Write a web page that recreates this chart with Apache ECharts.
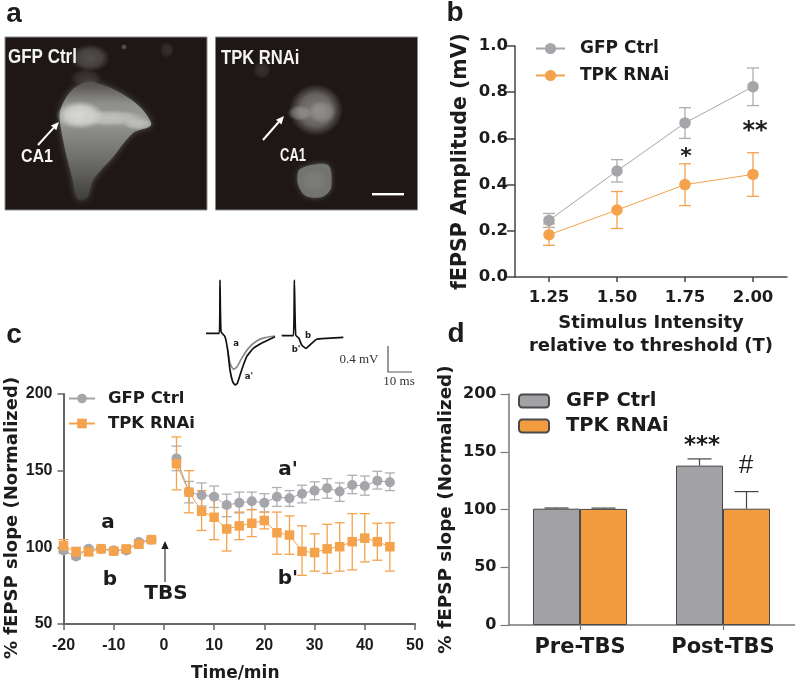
<!DOCTYPE html>
<html><head><meta charset="utf-8">
<style>html,body{margin:0;padding:0;background:#fff}#c{width:797px;height:683px}</style>
<script src="https://cdn.jsdelivr.net/npm/echarts@6/dist/echarts.min.js"></script>
</head><body><div id="c"></div>
<script>
// ---------- data ----------
const ampCategories = ['1.25','1.50','1.75','2.00'];
const ampGfp = [0.245,0.459,0.667,0.824];
const ampGfpLow = [0.215,0.411,0.600,0.742];
const ampGfpHigh = [0.275,0.508,0.733,0.905];
const ampTpk = [0.183,0.290,0.400,0.444];
const ampTpkLow = [0.137,0.210,0.309,0.349];
const ampTpkHigh = [0.230,0.370,0.490,0.538];

const timeMin = [-20,-17.5,-15,-12.5,-10,-7.5,-5,-2.5,2.5,5,7.5,10,12.5,15,17.5,20,22.5,25,27.5,30,32.5,35,37.5,40,42.5,45];
const slopeGfp = [98,94,99,99,98,98,103.5,105,158,136,134,133,127.6,129,130,129,133,132,135,137,138.6,136.4,140.7,140,143.5,142.5];
const slopeGfpLow = [96,92.5,97.5,98,97,96.5,102,104,150,129,127,126,120,122.4,124.6,123,126.7,126.7,129,131,132,130,135,134,138,137];
const slopeGfpHigh = [100,95.5,100.5,100,99,99.5,105,106,166,143,142,140,134.7,136,136,135,139,137,140.5,142.7,144.8,142,147,146.5,149.6,148.5];
const slopeTpk = [101,97,97,99,97.5,99,102,105,154.5,136,123.5,119.6,112,114,115.7,117.5,109.5,108,97.4,96.6,99,100.4,103.7,106,103.7,100.4];
const slopeTpkLow = [97,94.5,95,98,96,97,100,103.5,137.5,122.5,111,105,97.6,105,107,112,95.5,95.5,81.7,84.5,83,84.5,85.3,90.5,91.6,84.5];
const slopeTpkHigh = [105,100,99.5,100,99,101,104,106.5,172,150,137,134,126,123,124.6,123,123,120.5,114,108.8,115,116,122,122,115.7,116];
const tbsTime = 0;

const barCategories = ['Pre-TBS','Post-TBS'];
const barGfp = [100.7,138];
const barGfpHigh = [101.3,143.8];
const barTpk = [100.5,100.7];
const barTpkHigh = [101.2,115.5];

// example traces, in arbitrary sample units
const traceA1 = [[18,190],[58,190],[60,30],[63,185],[75,200],[83,240],[90,300],[98,335],[105,345],[112,340],[125,300],[140,260],[160,235],[190,217],[225,200]];
const traceA0 = [[83,240],[90,280],[100,298],[110,292],[125,265],[145,235],[170,213],[195,203],[225,198]];
const traceB1 = [[245,197],[280,197],[283,30],[287,195],[297,205],[305,225],[318,235],[330,225],[350,208],[380,205],[430,202]];

// ---------- style ----------
const GREY='#a6a6aa', ORANGE='#f4a24c', INK='#1c1c1c';
const WIDE='"DejaVu Sans"', ARIAL='"Liberation Sans"';
const tickFont=(s,f)=>({color:INK,fontFamily:f||WIDE,fontWeight:'bold',fontSize:s});
const strip=n=>n.replace(/ \(.\)$/,'');

function errRender(capW,color,lw){
  return function(p,api){
    const c0=api.coord([api.value(0),api.value(1)]);
    const c1=api.coord([api.value(0),api.value(2)]);
    const x=c0[0],st={stroke:color,lineWidth:lw,fill:null};
    return {type:'group',children:[
      {type:'line',shape:{x1:x,y1:c0[1],x2:x,y2:c1[1]},style:st},
      {type:'line',shape:{x1:x-capW/2,y1:c0[1],x2:x+capW/2,y2:c0[1]},style:st},
      {type:'line',shape:{x1:x-capW/2,y1:c1[1],x2:x+capW/2,y2:c1[1]},style:st}
    ]};
  };
}
function barErr(offset,capW,color){
  return function(p,api){
    const c0=api.coord([api.value(0),api.value(1)]);
    const c1=api.coord([api.value(0),api.value(2)]);
    const x=c0[0]+offset,st={stroke:color,lineWidth:1.2,fill:null};
    return {type:'group',children:[
      {type:'line',shape:{x1:x,y1:c0[1],x2:x,y2:c1[1]},style:st},
      {type:'line',shape:{x1:x-capW/2,y1:c1[1],x2:x+capW/2,y2:c1[1]},style:st}
    ]};
  };
}
const triple=(xs,lo,hi)=>xs.map((x,i)=>[x,lo[i],hi[i]]);
const idx=ampCategories.map((_,i)=>i), bidx=barCategories.map((_,i)=>i);

// ---------- graphic decoration ----------
const txt=(text,x,y,size,o={})=>({type:'text',x,y,scaleX:o.sx||1,scaleY:o.sy||1,rotation:o.rot||0,z:o.z||20,
  style:{text,x:0,y:0,fill:o.fill||INK,textAlign:o.align||'center',textVerticalAlign:'middle',
  font:(o.weight||'bold')+' '+size+'px '+(o.fam||ARIAL)}});
function arrow(x1,y1,x2,y2,color,w,head){
  const a=Math.atan2(y2-y1,x2-x1),bx=x2-head*Math.cos(a),by=y2-head*Math.sin(a),nx=-Math.sin(a)*head*0.45,ny=Math.cos(a)*head*0.45;
  return [{type:'line',z:20,shape:{x1,y1,x2:bx,y2:by},style:{stroke:color,lineWidth:w}},
          {type:'polygon',z:20,shape:{points:[[x2,y2],[bx+nx,by+ny],[bx-nx,by-ny]]},style:{fill:color}}];
}
const grad=(stops)=>({type:'linear',x:0,y:0,x2:0,y2:1,colorStops:stops.map(([offset,color])=>({offset,color}))});
const poly=(points,fill,blur,shadow,z)=>({type:'polygon',z:z||12,shape:{points,smooth:0.3},style:{fill,shadowBlur:blur,shadowColor:shadow}});
// soft-edged ellipse used for the fluorescence glow
const soft=(cx,cy,rx,ry,g,a,z)=>({type:'circle',z:z||13,x:cx,y:cy,scaleY:ry/rx,shape:{cx:0,cy:0,r:rx},
  style:{fill:{type:'radial',x:0.5,y:0.5,r:0.5,colorStops:[
    {offset:0,color:`rgba(${g},${g},${g-2},${a})`},{offset:0.6,color:`rgba(${g},${g},${g-2},${a*0.75})`},{offset:1,color:`rgba(${g},${g},${g-2},0)`}]}}});
const PANEL='#1e1716';
const graphic=[
  {type:'rect',z:10,shape:{x:5,y:37,width:202,height:173},style:{fill:PANEL,stroke:'#8a8a88',lineWidth:1}},
  {type:'rect',z:10,shape:{x:215.5,y:37,width:202,height:173},style:{fill:PANEL,stroke:'#8a8a88',lineWidth:1}},
  // left micrograph
  soft(90,58,20,14,115,0.6), soft(167,50,7,8,120,0.25), soft(124,47,3,3,150,0.5), soft(86,78,16,9,110,0.35),
  poly([[60,112],[72,90],[90,82],[117,91],[140,107],[151,125],[133,133],[113,157],[93,180],[87,197],[78,199],[72,177],[63,140]],
       grad([[0,'#504e4c'],[0.18,'#8e8e8c'],[0.34,'#9c9c9a'],[0.42,'#8a8a88'],[0.7,'#686866'],[1,'#403e3c']]),6,'#5a5856'),
  soft(80,115,24,14,222,0.95,14), soft(110,118,36,8,205,0.75,14), soft(138,124,15,6,205,0.7,14),
  // right micrograph
  soft(262,70,9,9,110,0.3),
  soft(316,110,27,26,150,0.8), soft(300,113,13,8,170,0.55,14), soft(322,112,14,12,170,0.5,14),
  poly([[300,169],[328,165],[331,188],[322,197],[306,196],[298,184]],'#737371',5,'#5a5a58'),
  soft(314,181,13,12,130,0.6,14),
  {type:'rect',z:20,shape:{x:372,y:193,width:32,height:2.4},style:{fill:'#fff'}},
  ...arrow(38,145,59,122,'#fff',2,8),
  ...arrow(263,140,284,116,'#fff',2,8),
  txt('GFP Ctrl',8,57,17,{align:'left',fill:'#f4f4f4',sy:1.2}),
  txt('TPK RNAi',221,59,16.6,{align:'left',fill:'#f4f4f4',sy:1.2}),
  txt('CA1',37,157,16,{fill:'#f4f4f4',sy:1.2}),
  txt('CA1',293,156,13,{fill:'#f4f4f4',sy:1.35}),
  txt('a',14,14,28),txt('b',455,13,28),txt('c',14,335,28),txt('d',456,334,28),
  // significance marks
  txt('*',686,157,22,{fam:WIDE}),
  txt('**',755,132,24,{fam:WIDE}),
  txt('***',702,446,23,{fam:WIDE}),
  txt('#',746,466,26,{fam:ARIAL,weight:'normal'}),
  // panel c annotations
  txt('a',108,523,20,{fam:WIDE}),txt('b',110,580,20,{fam:WIDE}),
  txt('TBS',166,594,20,{fam:WIDE}),
  ...arrow(165,582,165,541,'#666',1.6,8).slice(0,1),
  ...arrow(165,582,165,541,INK,1.6,8).slice(1),
  txt("a'",288,470,20,{fam:WIDE}),txt("b'",288,579,20,{fam:WIDE}),
  // trace labels and scale
  txt('a',236,344,8.5,{fam:WIDE}),txt("a'",249,377,8.5,{fam:WIDE}),
  txt('b',308,336,8.5,{fam:WIDE}),txt("b'",296,350,8.5,{fam:WIDE}),
  txt('0.4 mV',359,360,13,{fam:'"Liberation Serif"',weight:'normal',fill:'#333'}),
  txt('10 ms',399,382,13,{fam:'"Liberation Serif"',weight:'normal',fill:'#333'}),
  {type:'polyline',z:20,shape:{points:[[388,346],[388,372],[412,372]]},style:{stroke:'#555',lineWidth:1.2,fill:null}}
];

const lineSeries=(name,g,cats,vals,color,symbol,size,breakAfter)=>({type:'line',name,xAxisIndex:g,yAxisIndex:g,
  data:cats.flatMap((c,i)=>(breakAfter!==undefined&&c<breakAfter&&cats[i+1]>breakAfter)?[[c,vals[i]],[breakAfter,null]]:[[c,vals[i]]]),
  connectNulls:false,symbol,symbolSize:size,itemStyle:{color},lineStyle:{color,width:1},z:4});
const errSeries=(g,data,cap,color)=>({type:'custom',xAxisIndex:g,yAxisIndex:g,data,renderItem:errRender(cap,color,1.3),
  encode:{x:0,y:[1,2]},clip:false,z:3,silent:true});
const traceSeries=(data,color)=>({type:'line',xAxisIndex:3,yAxisIndex:3,data,symbol:'none',
  lineStyle:{color,width:1.7},smooth:0.15,z:2,silent:true});
const axisLine=(c,w)=>({show:true,onZero:false,lineStyle:{color:c,width:w}});
const axisTick=(c,w,l)=>({show:true,alignWithLabel:true,length:l,lineStyle:{color:c,width:w}});

const option={
  animation:false,backgroundColor:'#fff',tooltip:{show:false},graphic,
  grid:[
    {left:515,top:46,width:272,height:231},
    {left:63.5,top:394,width:351.5,height:232},
    {left:508.5,top:394,width:286,height:231},
    {left:200,top:270,width:240,height:130}
  ],
  legend:[
    {data:['GFP Ctrl (b)','TPK RNAi (b)'],formatter:strip,left:530,top:35,orient:'vertical',itemWidth:29,itemHeight:14,itemGap:10,
     textStyle:{...tickFont(17),padding:[0,0,0,10]},selectedMode:false},
    {data:['GFP Ctrl (c)','TPK RNAi (c)'],formatter:strip,left:63,top:385,orient:'vertical',itemWidth:26,itemHeight:12,itemGap:8,
     textStyle:{...tickFont(16.5),padding:[0,0,0,8]},selectedMode:false},
    {data:['GFP Ctrl (d)','TPK RNAi (d)'],formatter:strip,left:513,top:386,orient:'vertical',itemWidth:30,itemHeight:13,itemGap:5,
     textStyle:{...tickFont(19.5),padding:[0,0,0,12]},selectedMode:false}
  ],
  xAxis:[
    {gridIndex:0,type:'category',data:ampCategories,boundaryGap:true,axisLine:axisLine('#444',1.5),axisTick:axisTick('#444',1.5,5),
     axisLabel:{...tickFont(16.5),margin:12},name:'Stimulus Intensity\nrelative to threshold (T)',nameLocation:'middle',nameGap:35,
     nameTextStyle:{...tickFont(18),lineHeight:23}},
    {gridIndex:1,type:'value',min:-20,max:50,interval:10,splitLine:{show:false},axisLine:axisLine('#666',2),axisTick:axisTick('#666',1.5,6),
     axisLabel:{...tickFont(16,ARIAL),margin:14},name:'Time/min',nameLocation:'middle',nameGap:41,nameTextStyle:{...tickFont(17),padding:[0,8,0,0]}},
    {gridIndex:2,type:'category',data:barCategories,axisLine:axisLine('#777',1.5),axisTick:axisTick('#777',1.2,5),
     axisLabel:{...tickFont(21),margin:12}},
    {gridIndex:3,type:'value',min:0,max:720,show:false}
  ],
  yAxis:[
    {gridIndex:0,type:'value',min:0,max:1,interval:0.2,splitLine:{show:false},axisLine:axisLine('#444',1.5),axisTick:axisTick('#444',1.5,8),
     axisLabel:{...tickFont(16.5),margin:7,formatter:v=>v.toFixed(1)},name:'fEPSP Amplitude (mV)',nameLocation:'middle',nameGap:44,nameTextStyle:tickFont(20.5)},
    {gridIndex:1,type:'value',min:50,max:200,interval:50,splitLine:{show:false},axisLine:axisLine('#666',2),axisTick:axisTick('#666',1.5,6),
     axisLabel:{...tickFont(16,ARIAL),margin:11},name:'% fEPSP slope (Normalized)',nameLocation:'middle',nameGap:42,nameTextStyle:{...tickFont(18),padding:[0,18,0,0]}},
    {gridIndex:2,type:'value',min:0,max:200,interval:50,splitLine:{show:false},axisLine:axisLine('#777',1.5),axisTick:axisTick('#777',1.2,8),
     axisLabel:{...tickFont(16),margin:12},name:'% fEPSP slope (Normalized)',nameLocation:'middle',nameGap:53,nameTextStyle:tickFont(18.4)},
    {gridIndex:3,type:'value',min:0,max:390,inverse:true,show:false}
  ],
  series:[
    errSeries(0,triple(idx,ampGfpLow,ampGfpHigh),12,'#aeaeb2'),
    lineSeries('GFP Ctrl (b)',0,idx,ampGfp,GREY,'circle',11.5),
    errSeries(0,triple(idx,ampTpkLow,ampTpkHigh),12,ORANGE),
    lineSeries('TPK RNAi (b)',0,idx,ampTpk,ORANGE,'circle',11.5),

    errSeries(1,triple(timeMin,slopeGfpLow,slopeGfpHigh),10,'#b0b0b4'),
    lineSeries('GFP Ctrl (c)',1,timeMin,slopeGfp,GREY,'circle',10,tbsTime),
    errSeries(1,triple(timeMin,slopeTpkLow,slopeTpkHigh),10,ORANGE),
    lineSeries('TPK RNAi (c)',1,timeMin,slopeTpk,ORANGE,'rect',9.5,tbsTime),

    {type:'bar',name:'GFP Ctrl (d)',xAxisIndex:2,yAxisIndex:2,data:barGfp,barWidth:47,barGap:0,
     itemStyle:{color:'#a2a2a6',borderColor:'#4a4a4a',borderWidth:1}},
    {type:'bar',name:'TPK RNAi (d)',xAxisIndex:2,yAxisIndex:2,data:barTpk,barWidth:47,barGap:0,
     itemStyle:{color:'#f29c3f',borderColor:'#4a4a4a',borderWidth:1}},
    {type:'custom',xAxisIndex:2,yAxisIndex:2,data:triple(bidx,barGfp,barGfpHigh),renderItem:barErr(-23.5,24,'#444'),encode:{x:0,y:[1,2]},z:3,silent:true},
    {type:'custom',xAxisIndex:2,yAxisIndex:2,data:triple(bidx,barTpk,barTpkHigh),renderItem:barErr(23.5,24,'#444'),encode:{x:0,y:[1,2]},z:3,silent:true},

    traceSeries(traceA0,'#8a8a8a'),
    traceSeries(traceA1,'#111'),
    traceSeries(traceB1,'#111')
  ]
};
echarts.init(document.getElementById('c'),null,{renderer:'canvas'}).setOption(option);
</script></body></html>
